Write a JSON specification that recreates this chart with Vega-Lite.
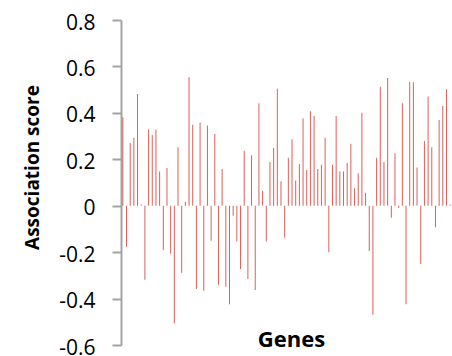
{
  "$schema": "https://vega.github.io/schema/vega-lite/v6.json",
  "width": 331,
  "height": 325,
  "autosize": "none",
  "padding": {"left": 121, "top": 20, "right": 0, "bottom": 11},
  "background": "white",
  "config": {"view": {"stroke": null}, "font": "Open Sans"},
  "data": {"values": [
    {"gene": 1, "score": 0.381}, {"gene": 2, "score": -0.177}, {"gene": 3, "score": 0.270}, {"gene": 4, "score": 0.293}, {"gene": 5, "score": 0.481},
    {"gene": 6, "score": 0.005}, {"gene": 7, "score": -0.319}, {"gene": 8, "score": 0.328}, {"gene": 9, "score": 0.305}, {"gene": 10, "score": 0.328},
    {"gene": 11, "score": 0.147}, {"gene": 12, "score": -0.191}, {"gene": 13, "score": 0.162}, {"gene": 14, "score": -0.207}, {"gene": 15, "score": -0.507},
    {"gene": 16, "score": 0.252}, {"gene": 17, "score": -0.289}, {"gene": 18, "score": 0.017}, {"gene": 19, "score": 0.553}, {"gene": 20, "score": 0.349},
    {"gene": 21, "score": -0.359}, {"gene": 22, "score": 0.359}, {"gene": 23, "score": -0.366}, {"gene": 24, "score": 0.346}, {"gene": 25, "score": -0.151},
    {"gene": 26, "score": 0.309}, {"gene": 27, "score": -0.340}, {"gene": 28, "score": 0.158}, {"gene": 29, "score": -0.349}, {"gene": 30, "score": -0.424},
    {"gene": 31, "score": -0.043}, {"gene": 32, "score": -0.154}, {"gene": 33, "score": -0.273}, {"gene": 34, "score": 0.237}, {"gene": 35, "score": -0.316},
    {"gene": 36, "score": 0.217}, {"gene": 37, "score": -0.363}, {"gene": 38, "score": 0.441}, {"gene": 39, "score": 0.063}, {"gene": 40, "score": -0.154},
    {"gene": 41, "score": 0.188}, {"gene": 42, "score": 0.249}, {"gene": 43, "score": 0.504}, {"gene": 44, "score": 0.105}, {"gene": 45, "score": -0.138},
    {"gene": 46, "score": 0.207}, {"gene": 47, "score": 0.286}, {"gene": 48, "score": 0.109}, {"gene": 49, "score": 0.180}, {"gene": 50, "score": 0.377},
    {"gene": 51, "score": 0.154}, {"gene": 52, "score": 0.407}, {"gene": 53, "score": 0.387}, {"gene": 54, "score": 0.158}, {"gene": 55, "score": 0.177},
    {"gene": 56, "score": 0.293}, {"gene": 57, "score": -0.200}, {"gene": 58, "score": 0.177}, {"gene": 59, "score": 0.387}, {"gene": 60, "score": 0.147},
    {"gene": 61, "score": 0.147}, {"gene": 62, "score": 0.184}, {"gene": 63, "score": 0.267}, {"gene": 64, "score": 0.075}, {"gene": 65, "score": 0.140},
    {"gene": 66, "score": 0.400}, {"gene": 67, "score": 0.056}, {"gene": 68, "score": -0.195}, {"gene": 69, "score": -0.470}, {"gene": 70, "score": 0.207},
    {"gene": 71, "score": 0.512}, {"gene": 72, "score": 0.188}, {"gene": 73, "score": 0.550}, {"gene": 74, "score": -0.052}, {"gene": 75, "score": 0.226},
    {"gene": 76, "score": -0.010}, {"gene": 77, "score": 0.441}, {"gene": 78, "score": -0.424}, {"gene": 79, "score": 0.534}, {"gene": 80, "score": 0.532},
    {"gene": 81, "score": 0.165}, {"gene": 82, "score": -0.251}, {"gene": 83, "score": 0.279}, {"gene": 84, "score": 0.470}, {"gene": 85, "score": 0.252},
    {"gene": 86, "score": -0.093}, {"gene": 87, "score": 0.369}, {"gene": 88, "score": 0.430}, {"gene": 89, "score": 0.502}, {"gene": 90, "score": 0.005}
  ]},
  "mark": {"type": "bar", "size": 1, "color": "#d6625a"},
  "encoding": {
    "x": {
      "field": "gene", "type": "ordinal",
      "scale": {"paddingInner": 0, "paddingOuter": 0},
      "axis": {
        "title": "Genes", "labels": false, "ticks": false, "domain": false, "grid": false,
        "titleFont": "Open Sans", "titleFontSize": 22, "titleFontWeight": "bold", "titleColor": "#000000",
        "titleX": 170, "titleY": 1, "titleAlign": "center", "titleBaseline": "alphabetic"
      }
    },
    "y": {
      "field": "score", "type": "quantitative",
      "scale": {"domain": [-0.6, 0.8], "nice": false, "zero": false},
      "axis": {
        "title": "Association score",
        "values": [-0.6, -0.4, -0.2, 0, 0.2, 0.4, 0.6, 0.8],
        "labelExpr": "datum.value == 0 ? '0' : (datum.value < 0 ? '-' + format(-datum.value, '.1f') : format(datum.value, '.1f'))",
        "grid": false,
        "domainColor": "#a3a3a3", "domainWidth": 2,
        "tickColor": "#a3a3a3", "tickWidth": 2, "tickSize": 9,
        "labelFont": "Open Sans", "labelFontSize": 21, "labelColor": "#000000", "labelPadding": 17,
        "labelOffset": 3, "labelOverlap": false, "labelFlush": false,
        "titleFont": "Open Sans", "titleFontSize": 19, "titleFontWeight": "bold", "titleColor": "#000000",
        "titleX": -83, "titleY": 147, "titleAngle": -90, "titleAlign": "center", "titleBaseline": "alphabetic"
      }
    }
  }
}
